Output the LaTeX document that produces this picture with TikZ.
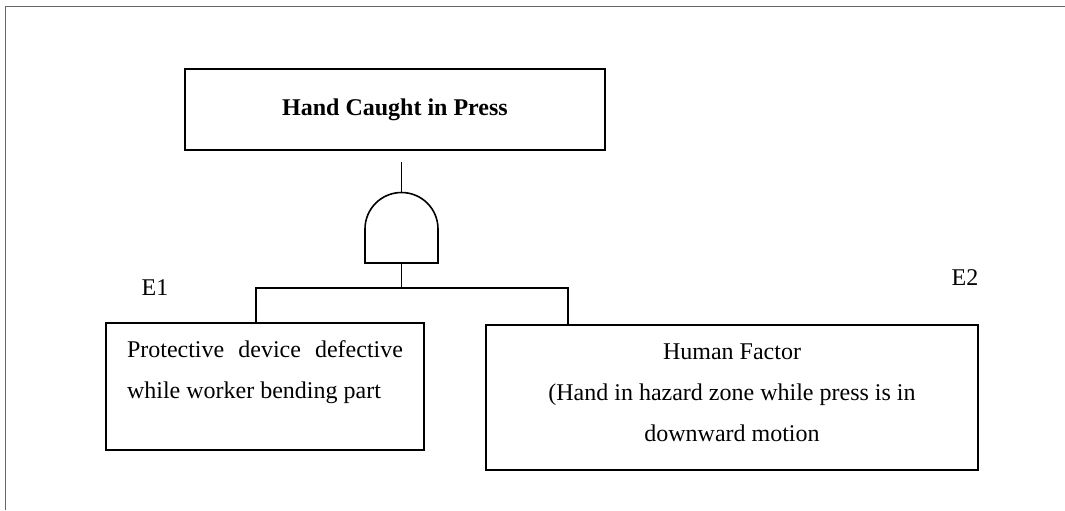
\documentclass[tikz,border=0pt]{standalone}
\usepackage{fontspec}
\setmainfont{Liberation Serif}
\usetikzlibrary{positioning}

\begin{document}
\begin{tikzpicture}[x=0.5pt, y=-0.5pt,
    eventbox/.style={draw, line width=1pt, inner sep=0pt, font=\fontsize{12pt}{20.5pt}\selectfont},
    wire/.style={line width=0.8pt},
    tag/.style={inner sep=0pt, font=\fontsize{12pt}{14pt}\selectfont}]
    \useasboundingbox (0,0) rectangle (1065,510);
    \draw [black!60, line width=0.5pt] (5,510) -- (5,6) -- (1065,6);

    \node [eventbox, minimum width=210pt, minimum height=40.5pt, font=\bfseries\fontsize{12pt}{14pt}\selectfont] (top) at (395,109.5) {Hand Caught in Press};
    \node [eventbox, minimum width=159pt, minimum height=63.5pt] (e1box) at (265,386.5) {\parbox[c][63.5pt][t]{138pt}{\rule{0pt}{17pt}Protective device defective\linebreak while worker bending part}};
    \node [eventbox, minimum width=246pt, minimum height=72.5pt] (e2box) at (732,397.5) {\parbox[c][72.5pt][t]{246pt}{\centering\rule{0pt}{17pt}Human Factor\\ (Hand in hazard zone while press is in\\ downward motion}};

    \node [tag] (e1tag) at (155,288) {E1};
    \node [tag] (e2tag) at (965,278) {E2};

    \coordinate (gin) at (401.5,162);
    \coordinate (gtop) at (401.5,192.5);
    \coordinate (gbot) at (401.5,263);
    \coordinate (gsplit) at (401.5,288);
    \coordinate (e1in) at ([xshift=-4.5pt]e1box.north);
    \coordinate (e2in) at ([xshift=-82pt]e2box.north);

    \draw [wire] (365,263) -- (365,229) .. controls (365,208.8) and (381.3,192.5) .. (gtop) .. controls (421.7,192.5) and (438,208.8) .. (438,229) -- (438,263) -- cycle;
    \draw [wire] (gin) -- (gtop);
    \draw [wire] (gbot) -- (gsplit);
    \draw [wire] (gsplit) -| (e1in);
    \draw [wire] (gsplit) -| (e2in);
\end{tikzpicture}
\end{document}
